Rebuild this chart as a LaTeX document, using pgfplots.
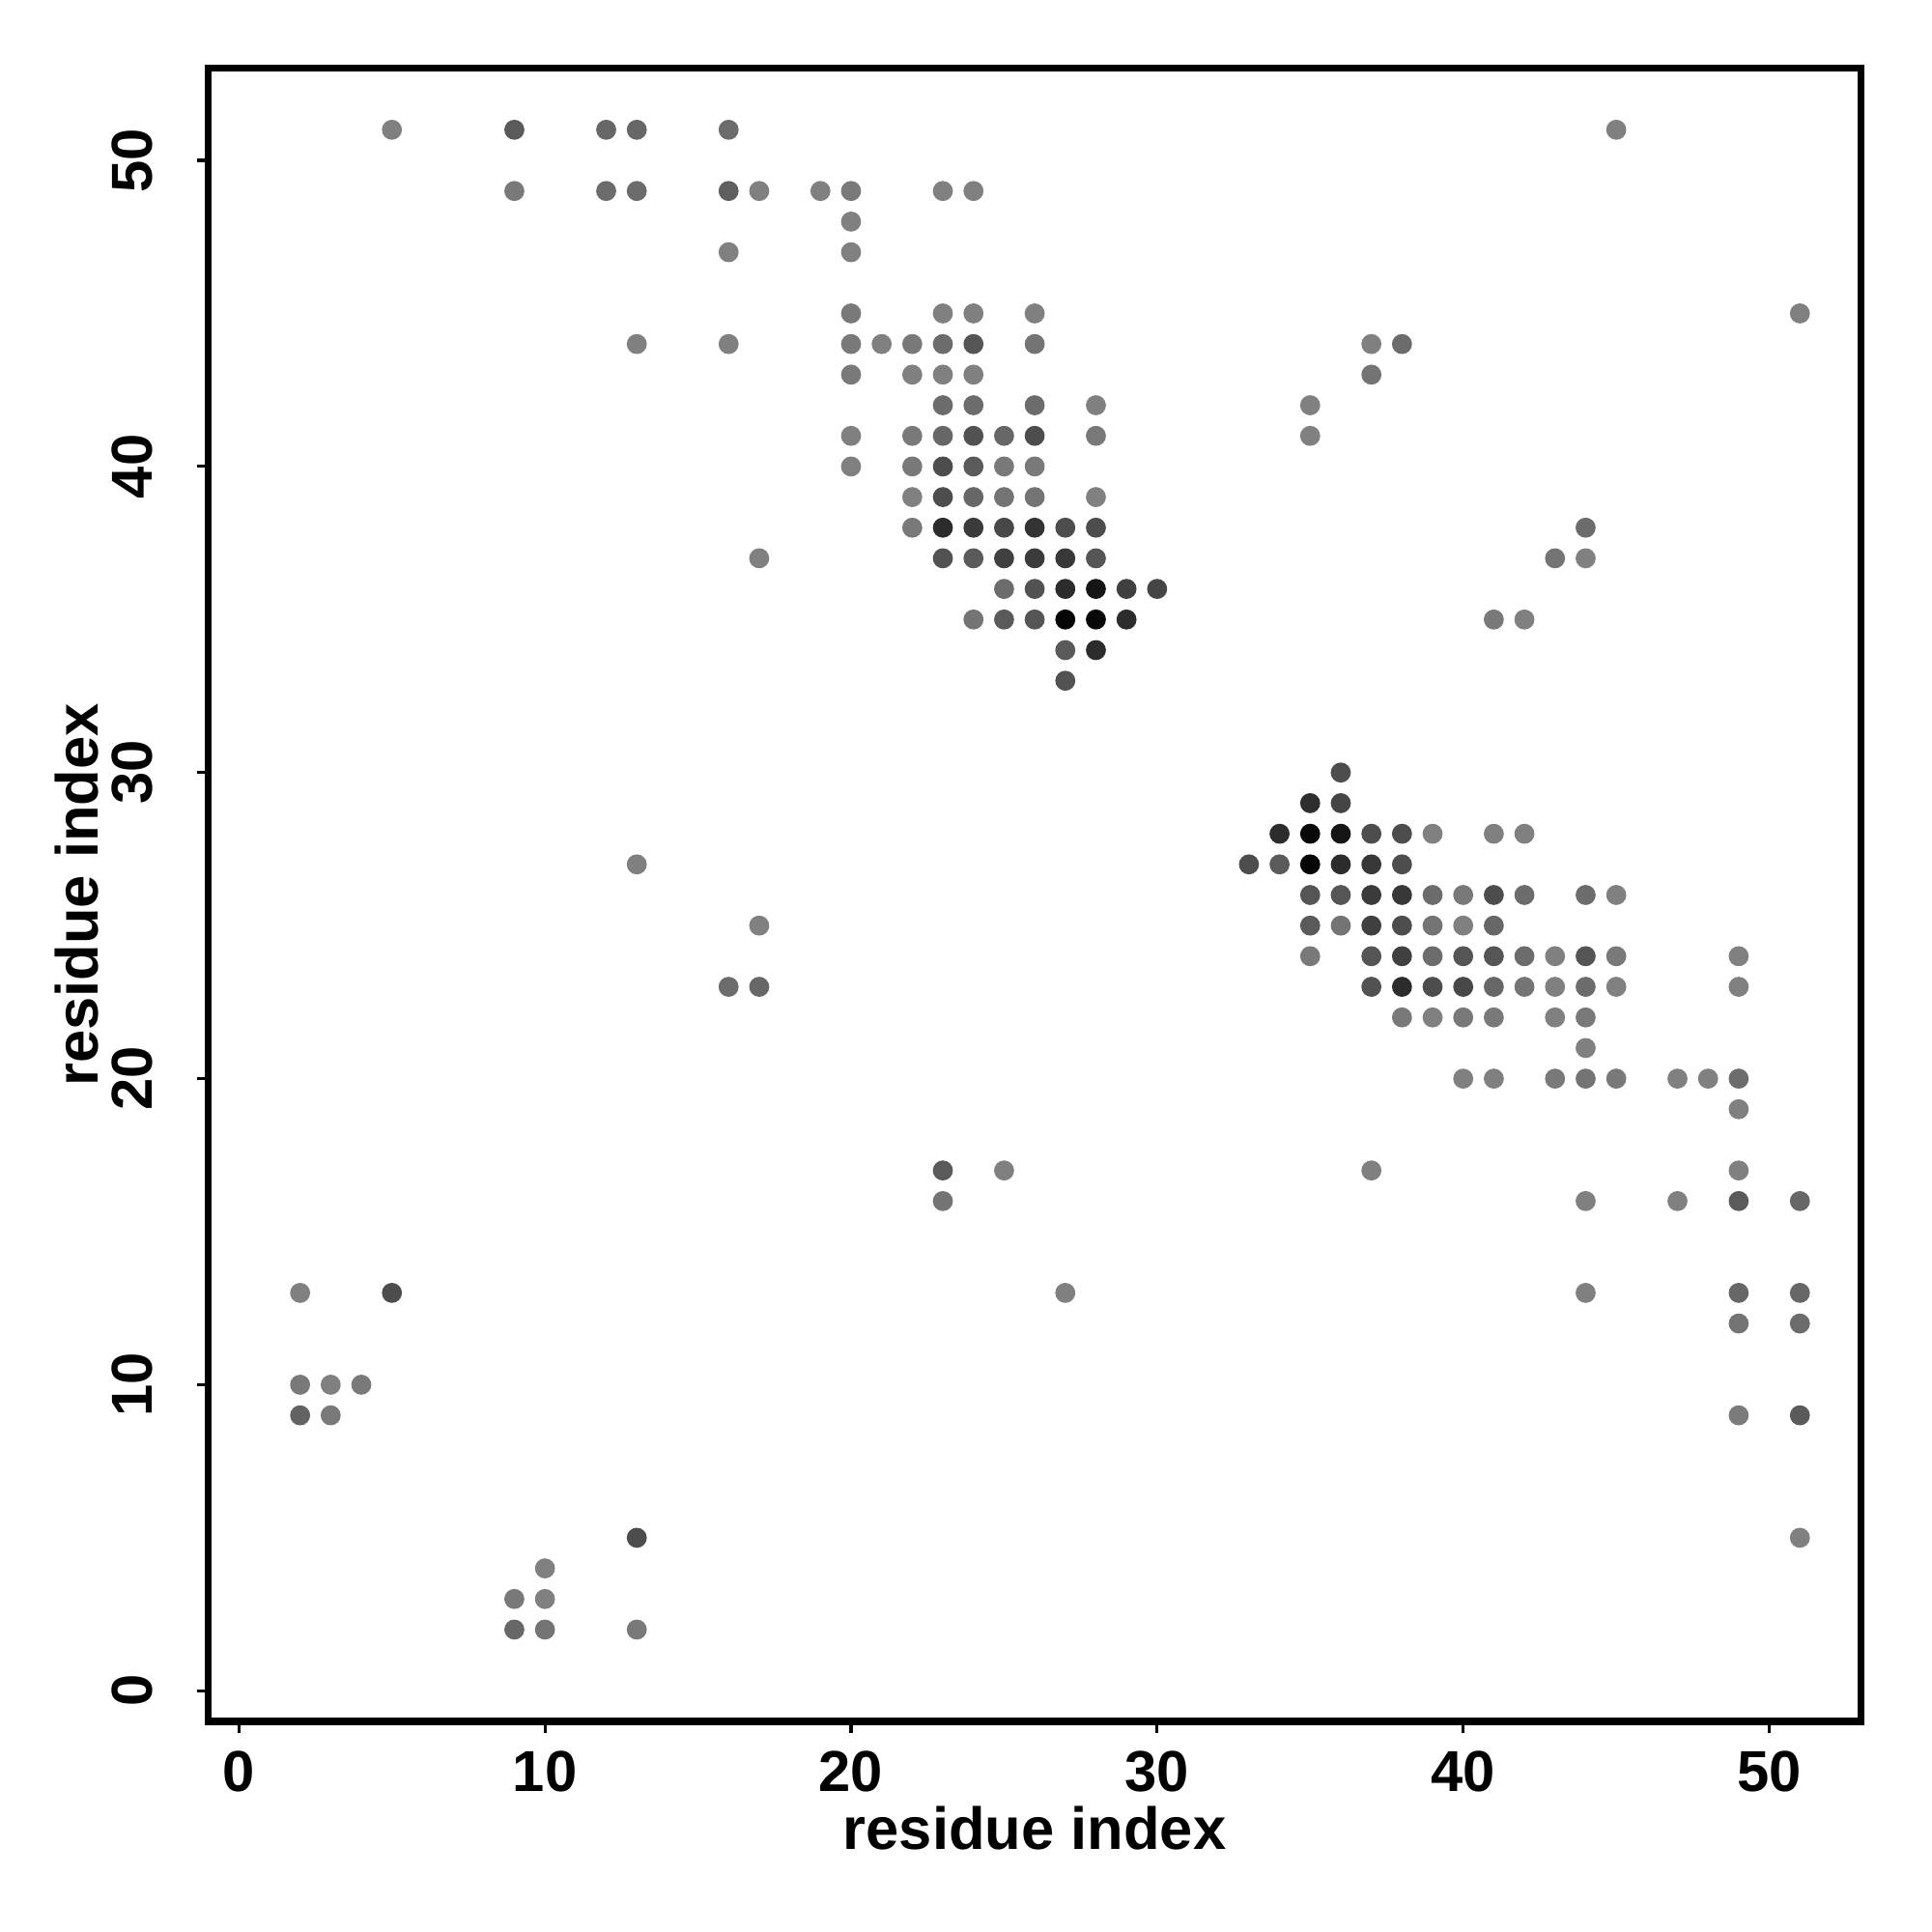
\documentclass[border=0pt]{standalone}
\usepackage{fontspec}
\setmainfont{Liberation Sans}
\usepackage{pgfplots}
\pgfplotsset{compat=1.18}
\usepackage{pgfplotstable}
\pgfplotstableread{
x y g
5 51 .50
9 51 .35
12 51 .40
13 51 .40
16 51 .42
45 51 .50
9 49 .47
12 49 .42
13 49 .42
16 49 .37
17 49 .50
19 49 .50
20 49 .47
23 49 .50
24 49 .50
20 48 .50
16 47 .50
20 47 .50
20 45 .47
23 45 .50
24 45 .50
26 45 .50
51 45 .50
13 44 .50
16 44 .50
20 44 .47
21 44 .50
22 44 .47
23 44 .42
24 44 .33
26 44 .45
37 44 .50
38 44 .42
20 43 .47
22 43 .50
23 43 .50
24 43 .50
37 43 .45
23 42 .42
24 42 .42
26 42 .42
28 42 .50
35 42 .50
20 41 .50
22 41 .47
23 41 .40
24 41 .32
25 41 .40
26 41 .30
28 41 .47
35 41 .50
20 40 .50
22 40 .47
23 40 .30
24 40 .35
25 40 .47
26 40 .47
22 39 .50
23 39 .30
24 39 .40
25 39 .45
26 39 .45
28 39 .50
22 38 .47
23 38 .17
24 38 .23
25 38 .28
26 38 .20
27 38 .30
28 38 .30
44 38 .42
17 37 .50
23 37 .32
24 37 .35
25 37 .25
26 37 .23
27 37 .22
28 37 .33
43 37 .45
44 37 .50
25 36 .42
26 36 .32
27 36 .17
28 36 .08
29 36 .25
30 36 .27
24 35 .45
25 35 .35
26 35 .33
27 35 .02
28 35 .03
29 35 .17
41 35 .47
42 35 .50
27 34 .35
28 34 .17
27 33 .32
36 30 .30
35 29 .18
36 29 .27
34 28 .17
35 28 .03
36 28 .08
37 28 .30
38 28 .30
39 28 .50
41 28 .50
42 28 .50
13 27 .50
33 27 .30
34 27 .35
35 27 .02
36 27 .17
37 27 .22
38 27 .30
35 26 .33
36 26 .33
37 26 .23
38 26 .22
39 26 .42
40 26 .47
41 26 .30
42 26 .42
44 26 .42
45 26 .50
17 25 .50
35 25 .35
36 25 .45
37 25 .25
38 25 .30
39 25 .45
40 25 .50
41 25 .40
35 24 .47
37 24 .33
38 24 .25
39 24 .42
40 24 .33
41 24 .33
42 24 .42
43 24 .50
44 24 .33
45 24 .47
49 24 .50
16 23 .42
17 23 .40
37 23 .32
38 23 .17
39 23 .30
40 23 .28
41 23 .40
42 23 .45
43 23 .50
44 23 .42
45 23 .50
49 23 .50
38 22 .47
39 22 .50
40 22 .47
41 22 .47
43 22 .50
44 22 .47
44 21 .50
40 20 .50
41 20 .50
43 20 .47
44 20 .45
45 20 .47
47 20 .50
48 20 .50
49 20 .42
49 19 .50
23 17 .35
25 17 .50
37 17 .50
49 17 .50
23 16 .45
44 16 .50
47 16 .50
49 16 .35
51 16 .40
2 13 .50
5 13 .30
27 13 .50
44 13 .50
49 13 .40
51 13 .40
49 12 .45
51 12 .42
2 10 .47
3 10 .50
4 10 .47
2 9 .38
3 9 .47
49 9 .48
51 9 .35
13 5 .30
51 5 .50
10 4 .50
9 3 .47
10 3 .50
9 2 .40
10 2 .45
13 2 .47
}\contacts

\begin{document}
\begin{tikzpicture}
\begin{axis}[
  scale only axis,
  width=17.11cm, height=17.11cm,
  xmin=-1, xmax=53, ymin=-1, ymax=53,
  xtick={0,10,...,50}, ytick={0,10,...,50},
  tick pos=left,
  tick align=outside,
  major tick length=0.12cm,
  every tick/.style={black, line width=0.9pt},
  axis line style={line width=2pt},
  /pgf/number format/assume math mode=true,
  ticklabel style={font=\fontsize{17}{20}\selectfont\bfseries},
  xticklabel style={anchor=center, yshift=-0.40cm},
  yticklabel style={xshift=-0.666cm, rotate=90, anchor=center},
  label style={font=\fontsize{17.5}{20}\selectfont\bfseries},
  xlabel={residue index},
  ylabel={residue index},
  xlabel style={at={(axis description cs:0.5,-0.0643)}, anchor=center},
  ylabel style={at={(axis description cs:-0.0798,0.5)}, anchor=center},
  colormap={grays}{gray(0cm)=(0); gray(1cm)=(1)},
  point meta min=0, point meta max=1,
]
\addplot[scatter, only marks, mark=*, mark size=2.75pt,
  scatter src=explicit,
  scatter/use mapped color={draw=mapped color, fill=mapped color}]
  table[x=x, y=y, meta=g] {\contacts};
\coordinate (bl) at (rel axis cs:0,0);
\coordinate (tr) at (rel axis cs:1,1);
\end{axis}
\path (bl) ++(-2.156cm,-2.18cm);
\path (tr) ++(0.73cm,0.71cm);
\end{tikzpicture}
\end{document}
